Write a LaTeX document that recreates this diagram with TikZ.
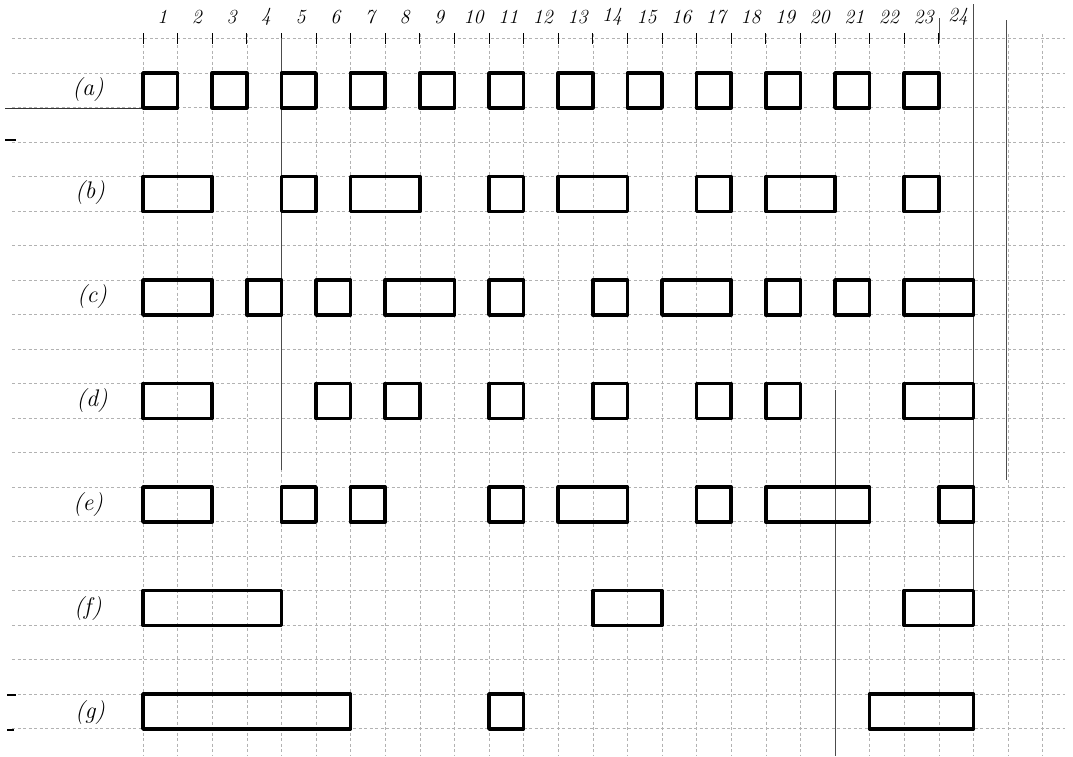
\documentclass[tikz,border=0pt]{standalone}
\begin{document}
\begin{tikzpicture}[x=1pt,y=-1pt,
  gridline/.style={gray!60, line width=0.5pt, dash pattern=on 3pt off 2.5pt},
  darkline/.style={black!70, line width=0.8pt},
  edgedash/.style={black, line width=1.6pt},
  box/.style={draw=black, line width=3.5pt, line join=round},
  lab/.style={font=\itshape\fontsize{24}{24}\selectfont},
  num/.style={font=\itshape\fontsize{20}{20}\selectfont}]
\useasboundingbox (0,0) rectangle (1073,756);
% horizontal grid lines
\foreach \k in {-1,...,19}
  \draw[gridline] (12,{73+34.5*\k}) -- (1065,{73+34.5*\k});
% vertical grid lines
\foreach \i in {0,...,26}
  \draw[gridline] ({143+34.6*\i},34) -- ({143+34.6*\i},756);
% top tick marks
\foreach \i in {0,...,24}
  \draw[black, line width=1pt] ({143+34.6*\i},33) -- ({143+34.6*\i},44);
% darker lines
\draw[darkline] (973,4) -- (973,600);
\draw[darkline] (1006,20) -- (1006,480);
\draw[darkline] (939,18) -- (939,40);
\draw[darkline] (281,38) -- (281,470);
\draw[darkline] (835,390) -- (835,756);
\draw[black!80, line width=0.8pt] (5,108) -- (143,108);
\draw[edgedash] (5,140) -- (16,140);
\draw[edgedash] (7,695) -- (16,695);
\draw[edgedash] (7,730) -- (14,730);
% column numbers
\foreach \n in {1,...,24}
  \node[num] (n\n) at ({143+34.6*(\n-0.5)+2},17) {\n};
% row labels
\node[lab] (la) at (88,90) {(a)};
\node[lab] (lb) at (90,193) {(b)};
\node[lab] (lc) at (92,297) {(c)};
\node[lab] (ld) at (92,401) {(d)};
\node[lab] (le) at (88,505) {(e)};
\node[lab] (lf) at (88,608) {(f)};
\node[lab] (lg) at (90,712) {(g)};
% boxes
\foreach \r/\spans in {
  0/{0/1,2/3,4/5,6/7,8/9,10/11,12/13,14/15,16/17,18/19,20/21,22/23},
  1/{0/2,4/5,6/8,10/11,12/14,16/17,18/20,22/23},
  2/{0/2,3/4,5/6,7/9,10/11,13/14,15/17,18/19,20/21,22/24},
  3/{0/2,5/6,7/8,10/11,13/14,16/17,18/19,22/24},
  4/{0/2,4/5,6/7,10/11,12/14,16/17,18/21,23/24},
  5/{0/4,13/15,22/24},
  6/{0/6,10/11,21/24}}
  \foreach \a/\b in \spans
    \draw[box] ({143+34.6*\a},{73+103.5*\r}) rectangle ({143+34.6*\b},{108+103.5*\r});
\end{tikzpicture}
\end{document}
